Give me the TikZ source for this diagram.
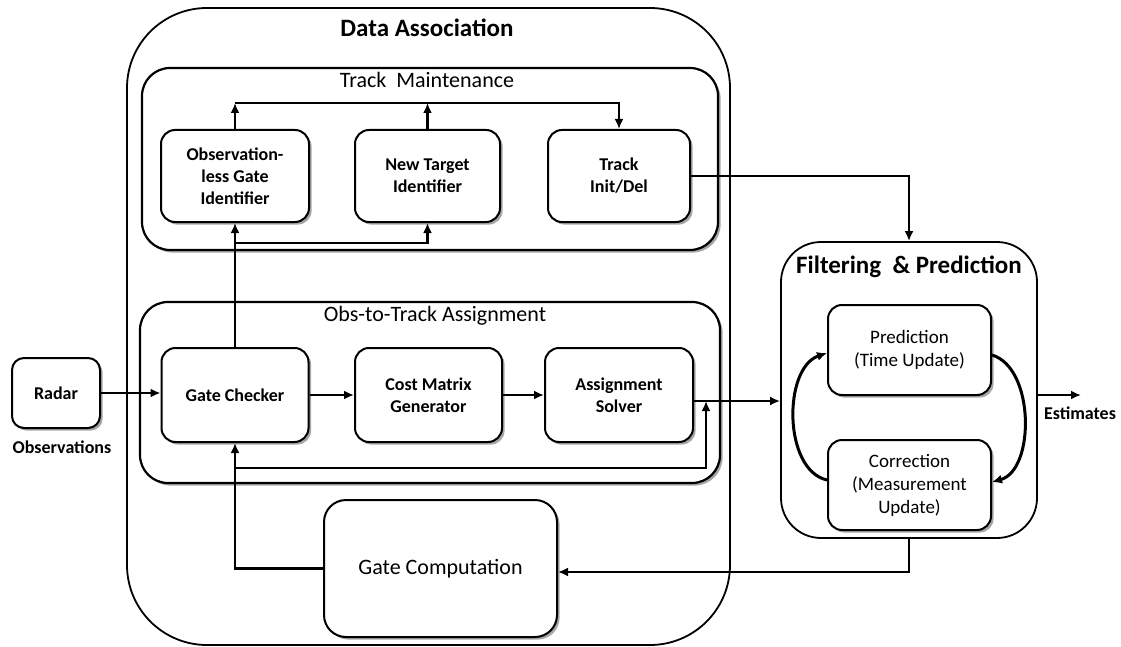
\documentclass[tikz,border=0pt]{standalone}
\usepackage{fontspec}
\setmainfont{Carlito}
\usetikzlibrary{arrows.meta,shadows,calc}
\begin{document}
\begin{tikzpicture}[x=1pt,y=-1pt,
  shad/.style={drop shadow={shadow xshift=2.6pt,shadow yshift=-2.6pt,fill=gray!70,opacity=1}},
  container/.style={draw, line width=1.8pt, fill=white, inner sep=0pt},
  group/.style={draw, line width=2.2pt, fill=white, inner sep=0pt, rounded corners=28pt, shad},
  box/.style={draw, line width=2pt, rounded corners=14pt, fill=white, align=center, inner sep=0pt,
    font=\fontsize{18}{22}\selectfont\bfseries, shad},
  rbox/.style={box, font=\fontsize{19}{23}\selectfont},
  title/.style={font=\fontsize{22}{26}\selectfont, inner sep=0pt},
  btitle/.style={font=\fontsize{25}{28}\selectfont\bfseries, inner sep=0pt},
  lbl/.style={font=\fontsize{18}{22}\selectfont\bfseries, inner sep=0pt},
  arr/.style={line width=2.6pt, -{Latex[length=10pt,width=9pt]}},
  carr/.style={line width=3pt, -{Latex[length=10pt,width=9pt]}}
]
\useasboundingbox (0,0) rectangle (1121,647);

% containers
\node[container, rounded corners=80pt, minimum width=603pt, minimum height=637pt] (DA) at (428.5,326.5) {};
\node[btitle] (DAt) at (427,28) {Data Association};
\node[group, minimum width=576pt, minimum height=182pt] (TM) at (430,159) {};
\node[title] (TMt) at (427,80) {Track~ Maintenance};
\node[group, minimum width=580pt, minimum height=181pt] (OTA) at (430,392.5) {};
\node[title] (OTAt) at (435,316) {Obs-to-Track Assignment};
\node[container, rounded corners=40pt, minimum width=256pt, minimum height=296pt] (FP) at (909,390) {};
\node[btitle] (FPt) at (909,267) {Filtering~ \& Prediction};

% boxes
\node[box, minimum width=148pt, minimum height=92pt] (OL) at (235,176) {Observation-\\less Gate\\Identifier};
\node[box, minimum width=145pt, minimum height=92pt] (NT) at (427.5,176) {New Target\\Identifier};
\node[box, minimum width=142pt, minimum height=92pt] (TI) at (619,176) {Track\\Init/Del};
\node[box, minimum width=147pt, minimum height=94pt] (GC) at (235,395) {Gate Checker};
\node[box, minimum width=147pt, minimum height=94pt] (CM) at (428.5,395) {Cost Matrix\\Generator};
\node[box, minimum width=148pt, minimum height=94pt] (AS) at (619,395) {Assignment\\Solver};
\node[box, rounded corners=12pt, minimum width=88pt, minimum height=70pt] (RD) at (56,393) {Radar};
\node[lbl] (OBS) at (62,447) {Observations};
\node[rbox, rounded corners=22pt, minimum width=233pt, minimum height=137pt, font=\fontsize{22}{26}\selectfont] (GCP) at (440.5,568.5) {Gate Computation};
\node[rbox, minimum width=163pt, minimum height=90pt] (PR) at (909.5,350) {Prediction\\(Time Update)};
\node[rbox, minimum width=163pt, minimum height=90pt] (CO) at (909.5,485) {Correction\\(Measurement\\Update)};
\node[lbl] (EST) at (1080,413) {Estimates};

% coordinates
\coordinate (b1) at (235,103);
\coordinate (b2) at (427.5,103);
\coordinate (b3) at (619,103);
\coordinate (c1) at (235,243);
\coordinate (f1) at (235,468);
\coordinate (f2) at (706,468);
\coordinate (f3) at (706,401);
\coordinate (a1) at (693,401);
\coordinate (g1) at (909,572);
\coordinate (e1) at (1081,395);

% connectors
\draw[arr] (OL.north) -- (b1);
\draw[arr] (NT.north) -- (b2);
\draw[arr] (b1) -- (b3) -- (TI.north);
\draw[arr] (GC.north) -- (OL.south);
\draw[arr] (c1) -- (c1 -| NT.south) -- (NT.south);
\draw[arr] (RD.east) -- (RD.east -| GC.west);
\draw[arr] (GC.east) -- (CM.west);
\draw[arr] (CM.east) -- (AS.west);
\draw[arr] (a1) -- (a1 -| FP.west);
\draw[arr] (GCP.west) -- (GCP.west -| GC.south) -- (GC.south);
\draw[arr] (f1) -- (f2) -- (f3);
\draw[arr] (TI.east) -| (FP.north);
\draw[arr] (FP.south) -- (g1) -- (g1 -| GCP.east);
\draw[arr] (e1 -| FP.east) -- (e1);
\draw[carr] ([yshift=5pt]CO.west) .. controls (783,470) and (783,368) .. ([yshift=-3pt]PR.west);
\draw[carr] ([yshift=-5pt]PR.east) .. controls (1035,368) and (1035,470) .. ([yshift=3pt]CO.east);
\end{tikzpicture}
\end{document}
